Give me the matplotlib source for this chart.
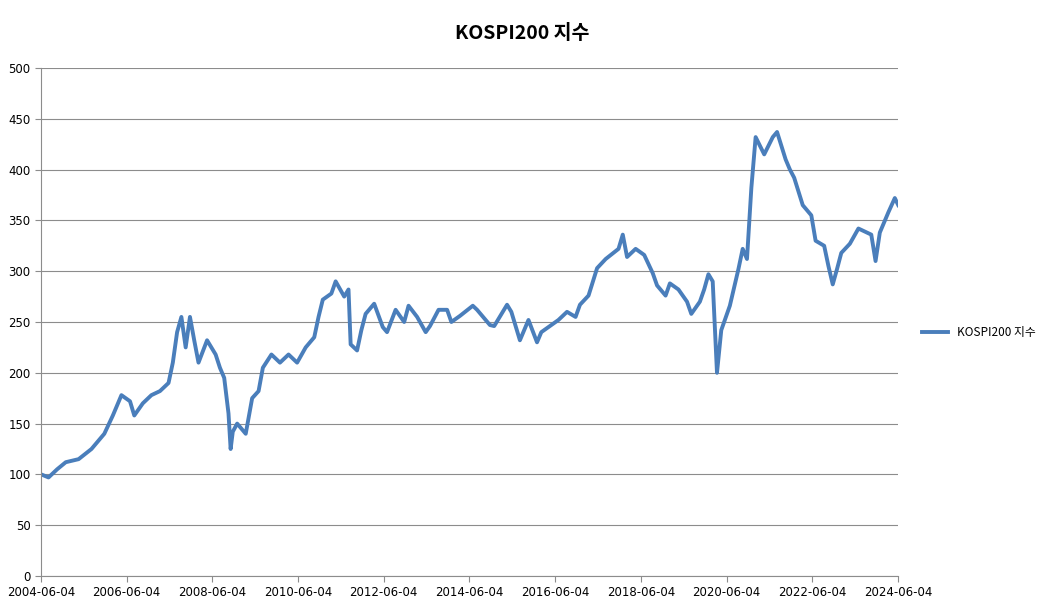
import matplotlib
matplotlib.use("Agg")
import matplotlib.pyplot as plt
import matplotlib.dates as mdates
import pandas as pd
import numpy as np

years = [2004.43,2004.6,2004.8,2005.0,2005.3,2005.6,2005.9,2006.1,2006.3,2006.5,2006.6,2006.8,2007.0,2007.2,2007.4,2007.5,2007.6,2007.7,2007.8,2007.9,
2008.0,2008.1,2008.3,2008.5,2008.6,2008.7,2008.8,2008.85,2008.9,2009.0,2009.2,2009.35,2009.5,2009.6,2009.8,2010.0,2010.2,2010.4,2010.6,2010.8,
2010.9,2011.0,2011.2,2011.3,2011.5,2011.6,2011.65,2011.8,2011.9,2012.0,2012.2,2012.4,2012.5,2012.7,2012.9,2013.0,2013.2,2013.4,2013.5,2013.7,
2013.9,2014.0,2014.2,2014.5,2014.6,2014.9,2015.0,2015.3,2015.4,2015.6,2015.7,2015.8,2016.0,2016.1,2016.3,2016.5,2016.7,2016.9,2017.0,2017.2,
2017.4,2017.6,2017.9,2018.0,2018.1,2018.3,2018.5,2018.7,2018.8,2019.0,2019.1,2019.3,2019.5,2019.6,2019.8,2019.9,2020.0,2020.1,2020.2,2020.3,
2020.5,2020.7,2020.8,2020.9,2021.0,2021.1,2021.3,2021.5,2021.6,2021.8,2021.9,2022.0,2022.2,2022.4,2022.5,2022.7,2022.8,2022.9,2023.0,2023.1,
2023.3,2023.5,2023.6,2023.8,2023.9,2024.0,2024.2,2024.35,2024.43]
values = [100,97,105,112,115,125,140,158,178,172,158,170,178,182,190,210,240,255,225,255,
232,210,232,218,205,195,160,125,142,150,140,175,182,205,218,210,218,210,225,235,
255,272,278,290,275,282,228,222,242,258,268,245,240,262,250,266,255,240,246,262,
262,250,256,266,262,247,246,267,260,232,242,252,230,240,246,252,260,255,267,276,
303,312,322,336,314,322,316,298,286,276,288,282,270,258,270,282,297,290,200,242,
266,302,322,312,382,432,415,432,437,410,400,392,365,355,330,325,305,287,302,318,
327,342,340,336,310,338,358,372,365]
xtick_labels = ["2004-06-04","2006-06-04","2008-06-04","2010-06-04","2012-06-04",
                "2014-06-04","2016-06-04","2018-06-04","2020-06-04","2022-06-04","2024-06-04"]

def yr2dt(y):
    yi = int(y)
    return pd.Timestamp(yi, 1, 1) + pd.Timedelta(days=(y - yi) * 365.25)

dates = [yr2dt(y) for y in years]
tick_dates = pd.to_datetime(xtick_labels)

fig = plt.figure(figsize=(10.44, 6.1), dpi=100)
ax = fig.add_axes([41/1044, 1-576/610, (898-41)/1044, (576-68)/610])
ax.plot(dates, values, color="#4A7EBB", lw=2.8, label="KOSPI200 지수")
ax.set_ylim(0, 500)
ax.set_yticks(range(0, 501, 50))
ax.set_xlim(tick_dates[0], tick_dates[-1])
ax.set_xticks(tick_dates)
ax.set_xticklabels(xtick_labels)
ax.yaxis.grid(True, color="#8c8c8c", lw=0.8)
ax.set_axisbelow(True)
for s in ["top", "right"]:
    ax.spines[s].set_visible(False)
for s in ["left", "bottom"]:
    ax.spines[s].set_color("#8c8c8c")
ax.tick_params(labelsize=8.5, colors="#8c8c8c", labelcolor="black", length=4)
fig.text(0.5, 0.945, "KOSPI200 지수", ha="center", va="center", fontsize=14,
         fontweight="bold", family=["Noto Sans CJK KR", "DejaVu Sans"])
fig.legend(loc="center left", bbox_to_anchor=(0.873, 0.455), frameon=False,
           prop={"family": ["Noto Sans CJK KR", "DejaVu Sans"], "size": 8.5},
           handlelength=2.2)
fig.savefig("out.png", dpi=100)
